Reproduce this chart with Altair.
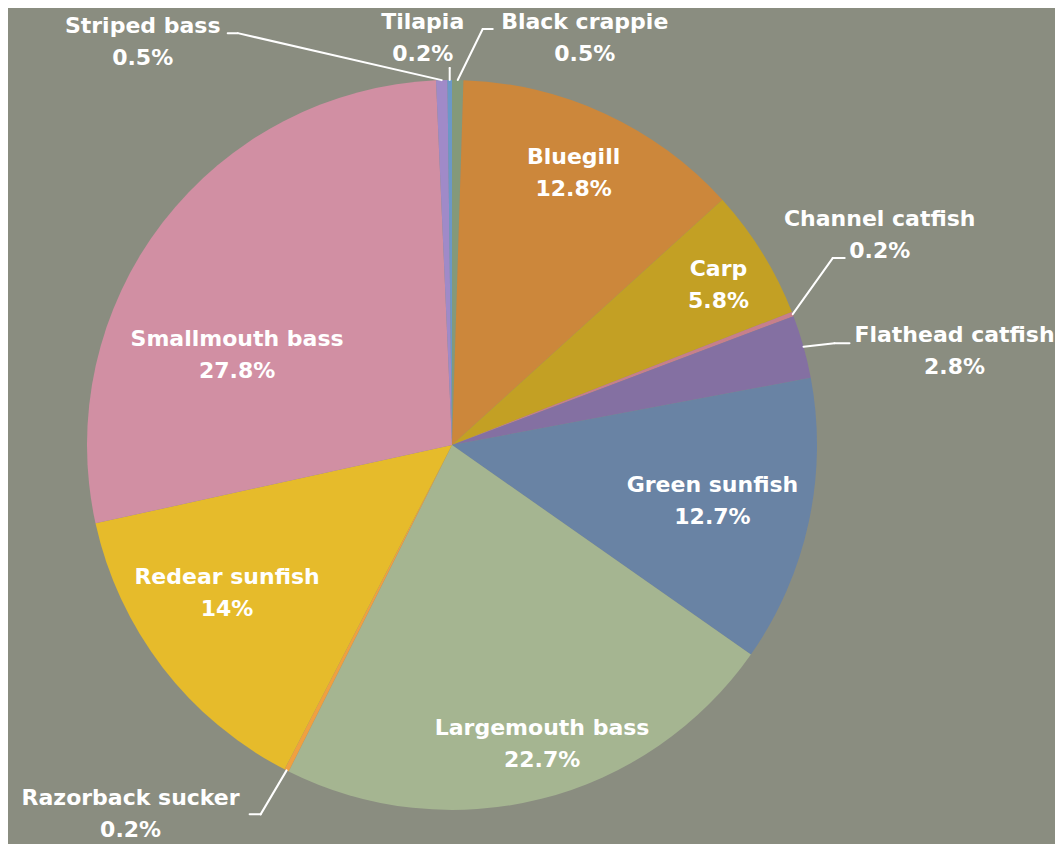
import altair as alt
import pandas as pd

# ---- data -------------------------------------------------------------
species = ["Black crappie", "Bluegill", "Carp", "Channel catfish",
           "Flathead catfish", "Green sunfish", "Largemouth bass",
           "Razorback sucker", "Redear sunfish", "Smallmouth bass",
           "Striped bass", "Tilapia"]
share = [0.5, 12.8, 5.8, 0.2, 2.8, 12.7, 22.7, 0.2, 14, 27.8, 0.5, 0.2]
colors = ["#84997a", "#cc873b", "#c3a024", "#c77f8c", "#8470a2", "#6983a4",
          "#a5b591", "#f0a040", "#e6bb2b", "#d18fa3", "#a08ac8", "#6b98c8"]

# ---- layout -----------------------------------------------------------
W, H = 1047, 836          # plot area
CX, CY = 444, 437         # pie centre
R = 365                   # pie radius
RI = 290                  # radius of inside labels
LINE_GAP = 32             # distance name -> percentage line
FONT = "DejaVu Sans"
FS = 22

# callouts for small slices: elbow offset from slice edge, stub length,
# label offset from end of stub
callout = {
    "Black crappie":    (25, -51, 10, 92, 0),
    "Channel catfish":  (40, -56, 12, 35, -32),
    "Flathead catfish": (31, -3.5, 15, 105, -1),
    "Razorback sucker": (-26, 44, -11, -119, -9),
    "Striped bass":     (-204, -47, -10, -85, 0),
    "Tilapia":          (0, -12, 0, -27, -39),
}
# nudges of inside labels from their mid-angle anchor
nudge = {
    "Bluegill": (0, -10),
    "Carp": (20, -8),
    "Green sunfish": (-23, -6),
    "Largemouth bass": (19, 17),
    "Redear sunfish": (5, -30),
    "Smallmouth bass": (15, 86),
}

rows = []
for i, (s, v) in enumerate(zip(species, share)):
    c = callout.get(s)
    n = nudge.get(s, (0, 0))
    rows.append({
        "species": s, "share": v, "idx": i,
        "outer": c is not None,
        "ex": c[0] if c else 0, "ey": c[1] if c else 0,
        "stub": c[2] if c else 0,
        "ndx": c[3] if c else n[0], "ndy": c[4] if c else n[1],
    })
df = pd.DataFrame(rows)

xs = alt.Scale(domain=[0, W], range=[0, W], nice=False, zero=False)
ys = alt.Scale(domain=[0, H], range=[0, H], nice=False, zero=False)

base = (
    alt.Chart(df)
    .transform_window(cum="sum(share)", sort=[alt.SortField("idx")], frame=[None, 0])
    .transform_joinaggregate(total="sum(share)")
    .transform_calculate(
        mid="(datum.cum - datum.share/2) / datum.total * 2 * PI",
        px=f"{CX} + {R} * sin(datum.mid)",
        py=f"{CY} - {R} * cos(datum.mid)",
        exa="datum.px + datum.ex",
        eya="datum.py + datum.ey",
        tx="datum.exa + datum.stub",
        ty="datum.eya",
        lx=f"datum.outer ? datum.tx + datum.ndx : {CX} + {RI} * sin(datum.mid) + datum.ndx",
        ly=f"datum.outer ? datum.ty + datum.ndy : {CY} - {RI} * cos(datum.mid) - 8 + datum.ndy",
        ly2=f"datum.ly + {LINE_GAP}",
        pct="datum.share + '%'",
    )
)

arc = alt.Chart(df).mark_arc(outerRadius=R).encode(
    theta=alt.Theta("share:Q", stack=True),
    order=alt.Order("idx:Q"),
    color=alt.Color("species:N", scale=alt.Scale(domain=species, range=colors), legend=None),
    x=alt.value(CX),
    y=alt.value(CY),
)

outer_base = base.transform_filter("datum.outer")
rule1 = outer_base.mark_rule(color="white", strokeWidth=2, strokeCap="round").encode(
    x=alt.X("px:Q", scale=xs, axis=None), y=alt.Y("py:Q", scale=ys, axis=None),
    x2="exa:Q", y2="eya:Q",
)
rule2 = outer_base.mark_rule(color="white", strokeWidth=2, strokeCap="round").encode(
    x=alt.X("exa:Q", scale=xs, axis=None), y=alt.Y("eya:Q", scale=ys, axis=None),
    x2="tx:Q", y2="ty:Q",
)

name_txt = base.mark_text(font=FONT, fontSize=FS, fontWeight="bold", color="white",
                          align="center", baseline="alphabetic").encode(
    x=alt.X("lx:Q", scale=xs, axis=None), y=alt.Y("ly:Q", scale=ys, axis=None),
    text="species:N",
)
pct_txt = base.mark_text(font=FONT, fontSize=FS, fontWeight="bold", color="white",
                         align="center", baseline="alphabetic").encode(
    x=alt.X("lx:Q", scale=xs, axis=None), y=alt.Y("ly2:Q", scale=ys, axis=None),
    text="pct:N",
)

chart = (
    alt.layer(arc, rule1, rule2, name_txt, pct_txt)
    .properties(width=W, height=H, autosize=alt.AutoSizeParams(type="none"), padding=0,
                background="#8a8d80")
    .configure_view(stroke=None)
)

chart.save("out.html", embed_options={"renderer": "svg", "actions": False})
